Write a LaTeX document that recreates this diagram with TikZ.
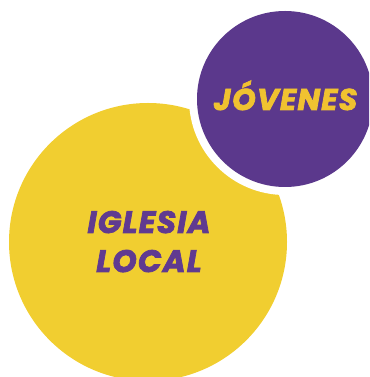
\documentclass[tikz,border=0pt]{standalone}
\usepackage{fontspec}
\newfontfamily\popfont{Poppins}[LetterSpace=4,FakeBold=2.4]
\definecolor{ylw}{HTML}{F1CE30}
\definecolor{prp}{HTML}{5B388C}
\definecolor{ytxt}{HTML}{F0C230}
\definecolor{ptxt}{HTML}{603A90}
\tikzset{lbl/.style={font=\popfont\bfseries\itshape\fontsize{30}{32}\selectfont, inner sep=0pt, anchor=base},
  biglbl/.style={lbl, font=\popfont\bfseries\itshape\fontsize{31}{33}\selectfont}}
\begin{document}
\begin{tikzpicture}[x=1pt,y=1pt]
\useasboundingbox (0,0) rectangle (369,377);
\clip (0,0) rectangle (369,377);
\fill[ylw] (148,135) circle (139);
\fill[white] (285,278) circle (96);
\fill[prp] (285,278) circle (88);
\node[biglbl, text=ptxt] (iglesia) at (149,144) {IGLESIA};
\node[biglbl, text=ptxt] (local) at (149,105) {LOCAL};
\node[lbl, text=ytxt] (jovenes) at (285.5,267) {JÓVENES};
\end{tikzpicture}
\end{document}
